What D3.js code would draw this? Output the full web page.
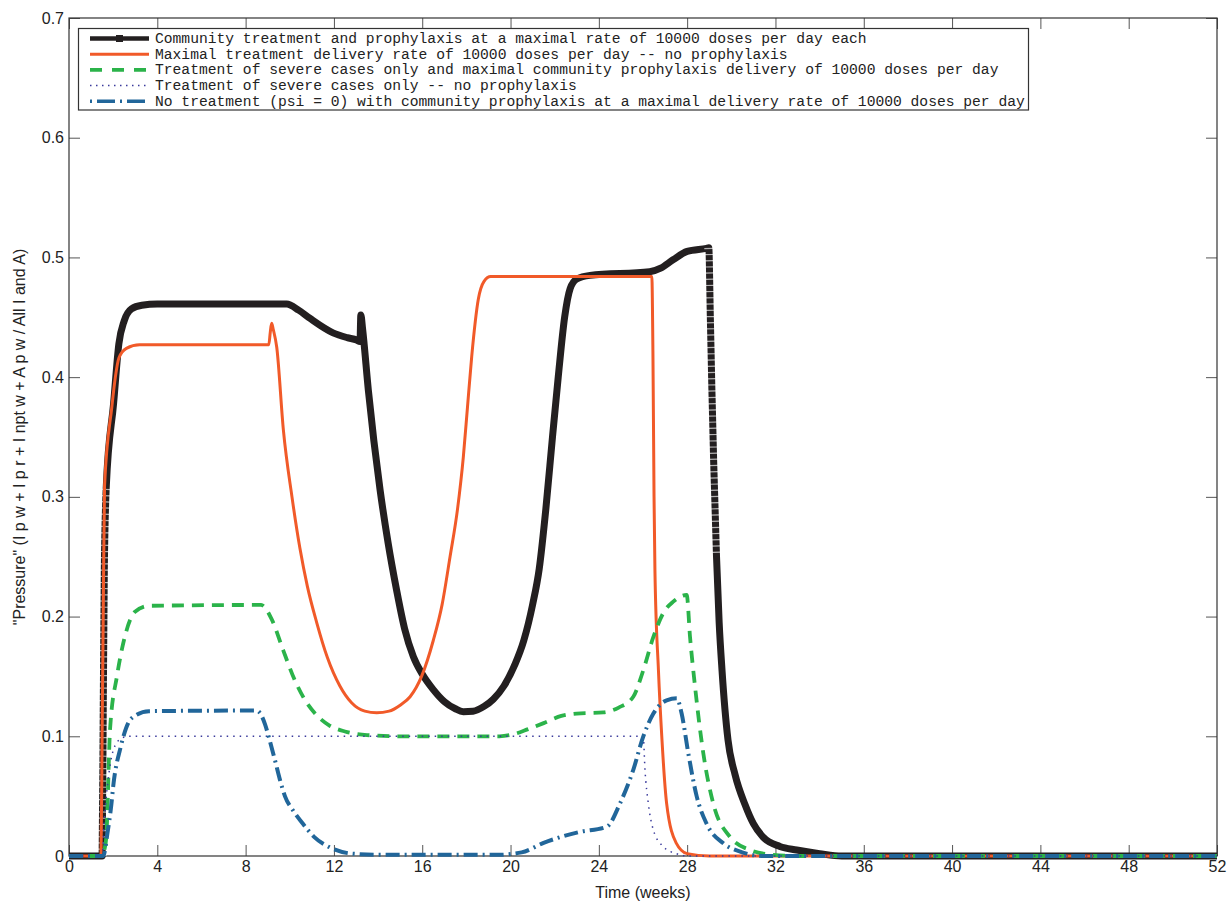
<!DOCTYPE html>
<html>
<head>
<meta charset="utf-8">
<script src="https://cdn.jsdelivr.net/npm/d3@7"></script>
<style>
  body { margin: 0; background: #fff; }
  svg { display: block; }
  .tick text { font-family: "Liberation Sans", Arial, sans-serif; font-size: 16px; fill: #222; }
</style>
</head>
<body>
<div id="chart"></div>
<script>
// series 1: community treatment + prophylaxis (black)
var comboWeeks = [0, 1.5, 1.55, 1.6, 1.69, 2.02, 2.26, 2.5, 2.83, 3.3, 4, 9.86, 10.4, 10.92, 11.96, 12.6, 13.03, 13.18,
  13.22, 13.3, 13.56, 14.09, 14.45, 14.84, 15.2, 15.6, 16.0, 16.5, 17.0, 17.5, 17.86, 18.3, 18.8, 19.22, 19.7, 20.2,
  20.6, 21.0, 21.3, 21.6, 21.9, 22.16, 22.45, 22.7, 23.0, 23.6, 26.3, 26.8, 27.36, 28.0, 28.88, 28.98, 29.05, 29.12,
  29.2, 29.33, 29.45, 29.58, 29.85, 30.17, 30.62, 31.0, 31.43, 32.2, 32.96, 34, 35, 52];
var comboVals = [0, 0, 0.12, 0.24, 0.309, 0.378, 0.428, 0.447, 0.457, 0.46, 0.461, 0.461, 0.456, 0.449, 0.437, 0.433, 0.431, 0.4297,
  0.452, 0.44, 0.389, 0.306, 0.262, 0.222, 0.19, 0.1665, 0.152, 0.139, 0.129, 0.123, 0.1206, 0.121, 0.125, 0.131, 0.142, 0.16,
  0.18, 0.21, 0.24, 0.29, 0.35, 0.40, 0.45, 0.474, 0.482, 0.485, 0.488, 0.491, 0.498, 0.505, 0.5076, 0.508, 0.45, 0.39,
  0.33, 0.25, 0.195, 0.155, 0.097, 0.068, 0.043, 0.027, 0.016, 0.008, 0.005, 0.002, 0, 0];

// series 2: maximal treatment, no prophylaxis (red)
var treatWeeks = [0, 1.45, 1.5, 1.55, 1.61, 1.94, 2.1, 2.26, 2.6, 3.2, 9.05, 9.12, 9.18, 9.25, 9.41, 9.71, 10.1, 10.46,
  10.8, 11.22, 11.7, 12.27, 12.8, 13.4, 13.94, 14.5, 15.0, 15.45, 15.97, 16.5, 16.9, 17.26, 17.6, 17.86, 18.05, 18.24,
  18.54, 18.8, 19.1, 26.4, 26.45, 26.5, 26.54, 26.7, 26.85, 27.07, 27.5, 28, 29, 52];
var treatVals = [0, 0, 0.1, 0.2, 0.309, 0.375, 0.4, 0.416, 0.424, 0.427, 0.427, 0.438, 0.445, 0.44, 0.425, 0.356, 0.3, 0.257,
  0.225, 0.195, 0.166, 0.142, 0.128, 0.121, 0.1197, 0.121, 0.126, 0.133, 0.150, 0.18, 0.21, 0.25, 0.29, 0.333, 0.375, 0.417,
  0.465, 0.480, 0.484, 0.484, 0.42, 0.3, 0.239, 0.155, 0.1, 0.044, 0.011, 0.002, 0, 0];

// series 3: severe cases only + community prophylaxis (green dashed)
var severeProphWeeks = [0, 1.5, 1.6, 1.69, 1.86, 2.18, 2.5, 2.99, 3.62, 8.7, 9.2, 9.7, 10.2, 10.7, 11.2, 11.8, 12.5, 13.5,
  15, 19.5, 20.2, 20.8, 21.5, 22.3, 23, 24.2, 24.9, 25.56, 26.01, 26.47, 26.92, 27.37, 27.98, 28.13, 28.36, 28.73,
  29.18, 29.94, 30.85, 31.9, 33, 52];
var severeProphVals = [0, 0, 0.005, 0.016, 0.106, 0.151, 0.181, 0.204, 0.209, 0.2097, 0.197, 0.172, 0.148, 0.13, 0.118, 0.109, 0.104, 0.101,
  0.1, 0.1, 0.102, 0.106, 0.111, 0.117, 0.119, 0.12, 0.124, 0.133, 0.155, 0.183, 0.203, 0.2125, 0.218, 0.183, 0.141, 0.086,
  0.044, 0.016, 0.005, 0.001, 0, 0];

// series 4: severe cases only, no prophylaxis (purple dotted)
var severeWeeks = [0, 1.5, 1.6, 1.75, 2.0, 2.35, 2.7, 26.01, 26.09, 26.24, 26.47, 26.92, 27.5, 28, 52];
var severeVals = [0, 0, 0.03, 0.06, 0.088, 0.098, 0.1, 0.1, 0.072, 0.044, 0.0217, 0.0078, 0.002, 0, 0];

// series 5: no treatment, community prophylaxis (blue dash-dot)
var prophWeeks = [0, 1.55, 1.75, 1.9, 2.02, 2.34, 2.83, 3.62, 8.5, 8.7, 8.88, 9.1, 9.33, 9.55, 9.78, 10.15, 10.55, 11.1,
  11.78, 12.8, 14, 19.4, 20.5, 21.5, 23.1, 24.36, 24.96, 25.56, 26.01, 26.47, 27.07, 27.53, 27.75, 28.05, 28.43, 28.88,
  29.64, 30.4, 31.5, 52];
var prophVals = [0, 0, 0.02, 0.04, 0.061, 0.091, 0.115, 0.121, 0.1215, 0.118, 0.11, 0.096, 0.08, 0.064, 0.05, 0.038, 0.028, 0.016,
  0.0075, 0.002, 0.001, 0.001, 0.003, 0.011, 0.02, 0.0245, 0.044, 0.072, 0.0997, 0.119, 0.130, 0.1317, 0.119, 0.086, 0.05, 0.027,
  0.0106, 0.0036, 0, 0];

var xTicks = [0, 4, 8, 12, 16, 20, 24, 28, 32, 36, 40, 44, 48, 52];
var yTicks = [0, 0.1, 0.2, 0.3, 0.4, 0.5, 0.6, 0.7];

var legendLabels = [
  "Community treatment and prophylaxis at a maximal rate of 10000 doses per day each",
  "Maximal treatment delivery rate of 10000 doses per day -- no prophylaxis",
  "Treatment of severe cases only and maximal community prophylaxis delivery of 10000 doses per day",
  "Treatment of severe cases only -- no prophylaxis",
  "No treatment (psi = 0) with community prophylaxis at a maximal delivery rate of 10000 doses per day"
];

var W = 1227, H = 903;
var margin = {top: 18, right: 10, bottom: 47, left: 69};
var width = W - margin.left - margin.right,
    height = H - margin.top - margin.bottom;

var svg = d3.select("#chart").append("svg").attr("width", W).attr("height", H);
var g = svg.append("g").attr("transform", "translate(" + margin.left + "," + margin.top + ")");

var x = d3.scaleLinear().domain([0, 52]).range([0, width]);
var y = d3.scaleLinear().domain([0, 0.7]).range([height, 0]);

// axes, ticks pointing inward on all four sides
var tickLen = 11;
g.append("g").attr("transform", "translate(0," + height + ")")
    .call(d3.axisBottom(x).tickValues(xTicks).tickSizeInner(-tickLen).tickSizeOuter(0).tickPadding(5));
g.append("g")
    .call(d3.axisLeft(y).tickValues(yTicks).tickFormat(function(d) { return d === 0 ? "0" : d3.format(".1f")(d); })
      .tickSizeInner(-tickLen).tickSizeOuter(0).tickPadding(5));
g.append("g")
    .call(d3.axisTop(x).tickValues(xTicks).tickSizeInner(-tickLen).tickSizeOuter(0).tickFormat(""));
g.append("g").attr("transform", "translate(" + width + ",0)")
    .call(d3.axisRight(y).tickValues(yTicks).tickSizeInner(-tickLen).tickSizeOuter(0).tickFormat(""));
g.selectAll(".domain").remove();
g.selectAll(".tick line").attr("stroke", "#555");

g.append("rect").attr("width", width).attr("height", height)
    .attr("fill", "none").attr("stroke", "#333").attr("stroke-width", 1.2);

// axis titles
svg.append("text")
    .attr("x", margin.left + width / 2).attr("y", 898)
    .attr("text-anchor", "middle")
    .style("font-family", "Liberation Sans, Arial, sans-serif").style("font-size", "16px").style("fill", "#222")
    .text("Time (weeks)");
svg.append("text")
    .attr("transform", "translate(25," + (margin.top + height / 2) + ") rotate(-90)")
    .attr("text-anchor", "middle")
    .style("font-family", "Liberation Sans, Arial, sans-serif").style("font-size", "16px").style("fill", "#222")
    .text("\"Pressure\" (I p w + I p r + I npt w + A p w / All I and A)");

var line = d3.line()
    .x(function(d) { return x(d[0]); })
    .y(function(d) { return y(d[1]); })
    .curve(d3.curveMonotoneX);

var series = [
  {w: comboWeeks, v: comboVals, color: "#231f20", width: 7, dash: null},
  {w: treatWeeks, v: treatVals, color: "#f15a29", width: 3, dash: null},
  {w: severeProphWeeks, v: severeProphVals, color: "#2bb34a", width: 3.8, dash: "12,8"},
  {w: severeWeeks, v: severeVals, color: "#3a3a9c", width: 1.5, dash: "1.5,5"},
  {w: prophWeeks, v: prophVals, color: "#21669a", width: 4, dash: "14,5,2,5"}
];

function pairs(s) {
  return s.w.map(function(wk, i) { return [wk, s.v[i]]; });
}

series.forEach(function(s, idx) {
  g.append("path")
      .datum(pairs(s))
      .attr("fill", "none")
      .attr("stroke", s.color)
      .attr("stroke-width", s.width)
      .attr("stroke-dasharray", s.dash)
      .attr("stroke-linejoin", "round")
      .attr("d", line);

  // steep stretches of the black curve show its square markers
  if (idx === 0) {
    [[1.5, 1.69], [28.98, 29.33]].forEach(function(r) {
      var sub = pairs(s).filter(function(p) { return p[0] >= r[0] && p[0] <= r[1]; });
      g.append("path")
          .datum(sub)
          .attr("fill", "none")
          .attr("stroke", "#fff")
          .attr("stroke-opacity", 0.65)
          .attr("stroke-width", 9)
          .attr("stroke-dasharray", "1.2,5")
          .attr("d", line);
    });
  }
});

// legend
var lg = svg.append("g");
lg.append("rect").attr("x", 78.5).attr("y", 28.5).attr("width", 950).attr("height", 81.5)
    .attr("fill", "#fff").attr("stroke", "#333").attr("stroke-width", 1.2);
var legendStyle = [
  {color: "#231f20", width: 4.5, dash: null},
  {color: "#f15a29", width: 3, dash: null},
  {color: "#2bb34a", width: 3.8, dash: "12,10"},
  {color: "#3a3a9c", width: 1.5, dash: "1.5,4.5"},
  {color: "#21669a", width: 3.5, dash: "2,5,18,5"}
];
legendLabels.forEach(function(lab, i) {
  var yy = 38.5 + i * 15.7;
  var st = legendStyle[i];
  lg.append("line").attr("x1", 90).attr("x2", 149).attr("y1", yy).attr("y2", yy)
      .attr("stroke", st.color).attr("stroke-width", st.width).attr("stroke-dasharray", st.dash);
  if (i === 0) {
    lg.append("rect").attr("x", 116).attr("y", yy - 3.5).attr("width", 7).attr("height", 7).attr("fill", st.color);
  }
  lg.append("text").attr("x", 155).attr("y", yy + 4.5)
      .style("font-family", "Liberation Mono, Courier New, monospace").style("font-size", "14.65px").style("fill", "#222")
      .text(lab);
});
</script>
</body>
</html>
